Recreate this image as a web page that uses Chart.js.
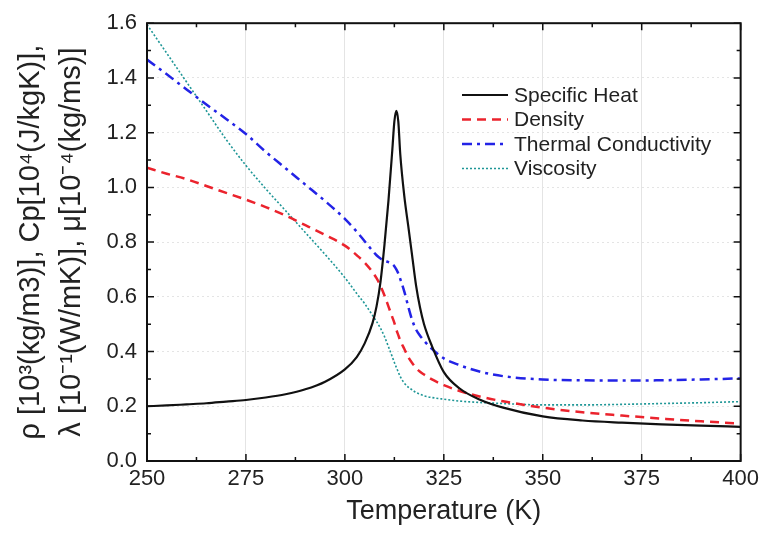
<!DOCTYPE html>
<html>
<head>
<meta charset="utf-8">
<script src="https://cdn.jsdelivr.net/npm/chart.js@4.4.1/dist/chart.umd.min.js"></script>
<style>
  body { margin: 0; background: #fff; }
  #wrap { width: 764px; height: 539px; }
</style>
</head>
<body>
<div id="wrap"><canvas id="myChart" width="764" height="539"></canvas></div>
<script>
// temperatures (K) shared by every series
const temperature = [250, 255, 260, 265, 270, 275, 280, 285, 290, 295,
  300, 303, 305, 307, 308, 309, 310, 311, 312, 312.5,
  313, 313.5, 314, 315, 316, 317, 318, 319, 320, 322,
  325, 329, 334, 340, 350, 360, 370, 380, 390, 400];

const specificHeat = [0.200, 0.203, 0.207, 0.211, 0.217, 0.223, 0.232, 0.244, 0.262, 0.29,
  0.335, 0.38, 0.43, 0.505, 0.565, 0.655, 0.79, 0.95, 1.14, 1.24,
  1.28, 1.24, 1.12, 0.97, 0.86, 0.75, 0.64, 0.56, 0.50, 0.42,
  0.325, 0.265, 0.225, 0.195, 0.163, 0.148, 0.14, 0.134, 0.129, 0.125];

const density = [1.072, 1.05, 1.03, 1.005, 0.98, 0.955, 0.928, 0.897, 0.862, 0.826,
  0.787, 0.752, 0.725, 0.69, 0.668, 0.64, 0.605, 0.565, 0.525, 0.505,
  0.48, 0.46, 0.44, 0.41, 0.38, 0.358, 0.34, 0.326, 0.316, 0.298,
  0.277, 0.256, 0.236, 0.218, 0.195, 0.178, 0.166, 0.155, 0.145, 0.137];

const conductivity = [1.467, 1.413, 1.358, 1.303, 1.25, 1.195, 1.13, 1.07, 1.01, 0.95,
  0.885, 0.838, 0.803, 0.768, 0.752, 0.74, 0.732, 0.727, 0.72, 0.712,
  0.70, 0.685, 0.665, 0.62, 0.565, 0.515, 0.48, 0.458, 0.44, 0.41,
  0.375, 0.35, 0.327, 0.31, 0.298, 0.295, 0.294, 0.295, 0.298, 0.302];

const viscosity = [1.595, 1.49, 1.385, 1.28, 1.175, 1.08, 0.995, 0.915, 0.835, 0.755,
  0.67, 0.612, 0.575, 0.532, 0.51, 0.485, 0.455, 0.418, 0.38, 0.36,
  0.342, 0.325, 0.308, 0.285, 0.27, 0.26, 0.25, 0.244, 0.238, 0.232,
  0.226, 0.219, 0.214, 0.21, 0.205, 0.205, 0.207, 0.21, 0.213, 0.217];

const seriesNames = ["Specific Heat", "Density", "Thermal Conductivity", "Viscosity"];
const xTicks = [250, 275, 300, 325, 350, 375, 400];
const yTicks = [0, 0.2, 0.4, 0.6, 0.8, 1.0, 1.2, 1.4, 1.6];
const xTitle = "Temperature (K)";
const yTitle = ["ρ [10³(kg/m3)], Cp[10⁴(J/kgK)],", "λ [10⁻¹(W/mK)], μ[10⁻⁴(kg/ms)]"];

document.addEventListener("DOMContentLoaded", function () {
  Chart.defaults.font.family = "'Liberation Sans', Arial, sans-serif";
  Chart.defaults.color = "#222";

  function toPoints(values) {
    return values.map((v, i) => ({ x: temperature[i], y: v }));
  }

  // box round the plot with inward major / minor ticks
  const frameTicks = {
    id: "frameTicks",
    afterDraw(chart) {
      const { ctx, chartArea: a, scales } = chart;
      ctx.save();
      ctx.strokeStyle = "#111";
      ctx.lineWidth = 2;
      ctx.strokeRect(a.left, a.top, a.right - a.left, a.bottom - a.top);
      ctx.lineWidth = 1.5;
      ctx.beginPath();
      for (let i = 0; i < xTicks.length * 2 - 1; i++) {
        const v = xTicks[0] + i * (xTicks[1] - xTicks[0]) / 2;
        const px = scales.x.getPixelForValue(v);
        const len = i % 2 === 0 ? 7 : 4;
        ctx.moveTo(px, a.bottom);
        ctx.lineTo(px, a.bottom - len);
        ctx.moveTo(px, a.top);
        ctx.lineTo(px, a.top + len);
      }
      for (let i = 0; i < yTicks.length * 2 - 1; i++) {
        const v = yTicks[0] + i * (yTicks[1] - yTicks[0]) / 2;
        const py = scales.y.getPixelForValue(v);
        const len = i % 2 === 0 ? 7 : 4;
        ctx.moveTo(a.left, py);
        ctx.lineTo(a.left + len, py);
        ctx.moveTo(a.right, py);
        ctx.lineTo(a.right - len, py);
      }
      ctx.stroke();
      ctx.restore();
    },
  };

  // legend drawn inside the plot, no box
  const insideLegend = {
    id: "insideLegend",
    afterDraw(chart) {
      const ctx = chart.ctx;
      ctx.save();
      ctx.font = "21px 'Liberation Sans', Arial, sans-serif";
      ctx.textBaseline = "middle";
      chart.data.datasets.forEach((ds, i) => {
        const y = 95 + i * 24.5;
        ctx.strokeStyle = ds.borderColor;
        ctx.lineWidth = ds.borderWidth;
        ctx.setLineDash(ds.borderDash || []);
        ctx.beginPath();
        ctx.moveTo(462, y);
        ctx.lineTo(508, y);
        ctx.stroke();
        ctx.setLineDash([]);
        ctx.fillStyle = "#222";
        ctx.fillText(ds.label, 514, y + 1);
      });
      ctx.restore();
    },
  };

  const ctx = document.getElementById("myChart").getContext("2d");
  new Chart(ctx, {
    type: "line",
    data: {
      datasets: [
        {
          label: seriesNames[0],
          data: toPoints(specificHeat),
          borderColor: "#111111",
          borderWidth: 2.2,
        },
        {
          label: seriesNames[1],
          data: toPoints(density),
          borderColor: "rgb(235, 35, 45)",
          borderWidth: 2.5,
          borderDash: [9, 6],
        },
        {
          label: seriesNames[2],
          data: toPoints(conductivity),
          borderColor: "rgb(35, 35, 230)",
          borderWidth: 2.5,
          borderDash: [10, 5, 3, 5],
        },
        {
          label: seriesNames[3],
          data: toPoints(viscosity),
          borderColor: "rgb(30, 150, 150)",
          borderWidth: 1.6,
          borderDash: [2, 2],
        },
      ],
    },
    options: {
      responsive: false,
      animation: false,
      cubicInterpolationMode: "monotone",
      elements: { point: { radius: 0 } },
      layout: { padding: { top: 22, right: 22, left: 0, bottom: 0 } },
      plugins: {
        legend: { display: false },
        tooltip: { enabled: false },
      },
      scales: {
        x: {
          type: "linear",
          min: 250,
          max: 400,
          afterBuildTicks: (scale) => {
            scale.ticks = xTicks.map((v) => ({ value: v }));
          },
          afterFit: (scale) => {
            scale.height = 78;
          },
          ticks: {
            font: { size: 22 },
            padding: 5,
            maxRotation: 0,
          },
          grid: { color: "#e4e4e4", lineWidth: 1, drawTicks: false },
          border: { display: false },
          title: {
            display: true,
            text: xTitle,
            font: { size: 27 },
            padding: { top: 0, bottom: 11 },
          },
        },
        y: {
          min: 0,
          max: 1.6,
          afterBuildTicks: (scale) => {
            scale.ticks = yTicks.map((v) => ({ value: v }));
          },
          afterFit: (scale) => {
            scale.width = 147;
          },
          ticks: {
            font: { size: 22 },
            padding: 10,
            callback: (v) => v.toFixed(1),
          },
          grid: { color: "#e4e4e4", lineWidth: 1, drawTicks: false },
          border: { display: false, dash: [2, 3] },
          title: {
            display: true,
            text: yTitle,
            font: { size: 29, lineHeight: 1.4 },
            padding: { top: 11, bottom: 0 },
          },
        },
      },
    },
    plugins: [frameTicks, insideLegend],
  });
});
</script>
</body>
</html>
